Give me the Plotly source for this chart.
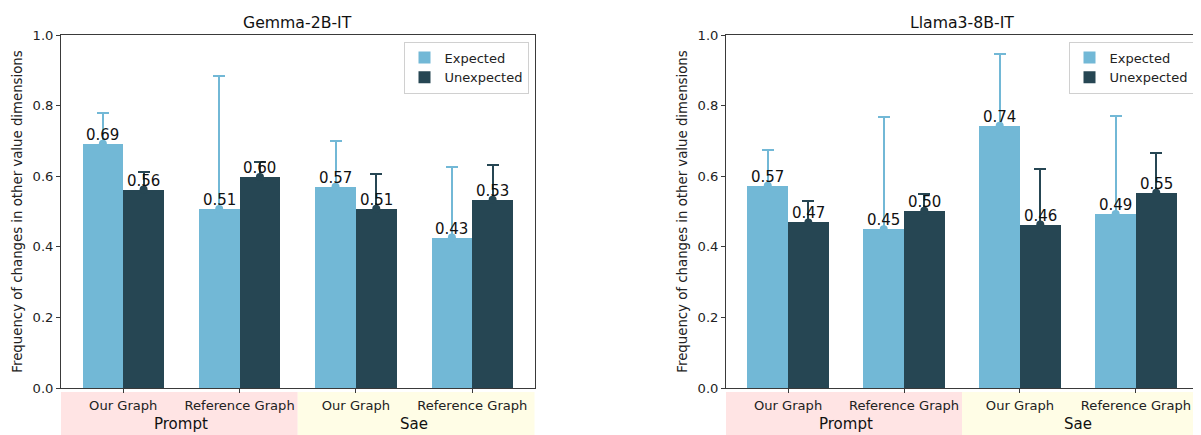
import plotly.graph_objects as go

# ---------------- data ----------------
categories = ["Our Graph", "Reference Graph", "Our Graph", "Reference Graph"]
groups = ["Prompt", "Sae"]
models = ["Gemma-2B-IT", "Llama3-8B-IT"]
series_names = ["Expected", "Unexpected"]

gemma_expected = [0.692, 0.507, 0.570, 0.426]
gemma_expected_err = [0.087, 0.377, 0.130, 0.201]
gemma_unexpected = [0.562, 0.598, 0.508, 0.533]
gemma_unexpected_err = [0.051, 0.041, 0.099, 0.099]

llama_expected = [0.573, 0.450, 0.743, 0.493]
llama_expected_err = [0.102, 0.317, 0.203, 0.278]
llama_unexpected = [0.469, 0.502, 0.463, 0.553]
llama_unexpected_err = [0.060, 0.047, 0.158, 0.113]

y_ticks = [0.0, 0.2, 0.4, 0.6, 0.8, 1.0]
y_title = "Frequency of changes in other value dimensions"

# ---------------- style ----------------
PAGE_W, PAGE_H = 1201, 435
OFF = 8  # default page body margin
W, H = PAGE_W - OFF, PAGE_H - OFF
FONT = "DejaVu Sans"
C_EXP = "#72b8d6"
C_UNEXP = "#264653"
C_PINK = "#ffe4e4"
C_YELLOW = "#fffde6"
AX_COLOR = "#3a3a3a"
BW = 0.35
XR = [-0.535, 3.535]


def px_x(p):
    return (p - OFF) / W


def px_y(p):
    return (PAGE_H - p) / H


domains = [[px_x(61), px_x(534.5)], [px_x(726), px_x(1198)]]
ydom = [px_y(388), px_y(35)]

panels = [
    (gemma_expected, gemma_expected_err, gemma_unexpected, gemma_unexpected_err),
    (llama_expected, llama_expected_err, llama_unexpected, llama_unexpected_err),
]

fig = go.Figure()
annotations = []
shapes = []

for i, (ev, ee, uv, ue) in enumerate(panels):
    xa = "x" if i == 0 else "x2"
    ya = "y" if i == 0 else "y2"
    leg = "legend" if i == 0 else "legend2"
    idx = list(range(len(categories)))
    for name, vals, errs, color, off in [
        (series_names[0], ev, ee, C_EXP, -BW / 2),
        (series_names[1], uv, ue, C_UNEXP, BW / 2),
    ]:
        xs = [k + off for k in idx]
        fig.add_trace(go.Bar(
            x=xs, y=vals, width=BW, name=name, xaxis=xa, yaxis=ya,
            marker=dict(color=color, line=dict(width=0)),
            error_y=dict(type="data", array=errs, visible=True, color=color,
                         thickness=2, width=6),
            legend=leg, showlegend=True,
        ))
        fig.add_trace(go.Scatter(
            x=xs, y=vals, mode="markers", xaxis=xa, yaxis=ya,
            marker=dict(color=color, size=8), showlegend=False, hoverinfo="skip",
        ))
        for x, v in zip(xs, vals):
            annotations.append(dict(
                x=x, y=v, xref=xa, yref=ya, text=f"{v:.2f}", showarrow=False,
                yanchor="bottom", xanchor="center", borderpad=0, yshift=-1,
                font=dict(family=FONT, size=15, color="#111111"),
            ))
    # category group bands
    shapes.append(dict(type="rect", xref=xa, yref="paper", x0=XR[0], x1=1.5,
                       y0=0, y1=px_y(392), fillcolor=C_PINK, line=dict(width=0),
                       layer="below"))
    shapes.append(dict(type="rect", xref=xa, yref="paper", x0=1.5, x1=XR[1] + 0.02,
                       y0=0, y1=px_y(392), fillcolor=C_YELLOW, line=dict(width=0),
                       layer="below"))
    for g, gx in zip(groups, [0.5, 2.5]):
        annotations.append(dict(
            x=gx, y=px_y(424), xref=xa, yref="paper", text=g, showarrow=False,
            yanchor="middle", xanchor="center",
            font=dict(family=FONT, size=15, color="#111111"),
        ))
    # title
    annotations.append(dict(
        x=sum(domains[i]) / 2, y=px_y(22), xref="paper", yref="paper",
        text=models[i], showarrow=False, yanchor="middle", xanchor="center",
        font=dict(family=FONT, size=15.7, color="#111111"),
    ))

axis_common = dict(showline=True, linecolor=AX_COLOR, linewidth=1, mirror=True,
                   ticks="outside", ticklen=4, tickwidth=1, tickcolor=AX_COLOR,
                   showgrid=False, zeroline=False, automargin=False,
                   tickfont=dict(family=FONT, size=13.1, color="#222222"))

for i in range(2):
    sfx = "" if i == 0 else "2"
    fig.update_layout(**{
        f"xaxis{sfx}": dict(axis_common, domain=domains[i], range=XR,
                            tickvals=list(range(len(categories))), ticktext=categories,
                            anchor="y" + sfx, ticklabelstandoff=1),
        f"yaxis{sfx}": dict(axis_common, domain=ydom, range=[0, 1],
                            tickvals=y_ticks, tickformat=".1f",
                            anchor="x" + sfx,
                            title=dict(text=y_title, standoff=6,
                                       font=dict(family=FONT, size=13.3, color="#222222"))),
    })

legend_common = dict(bgcolor="rgba(255,255,255,0.85)", bordercolor="#d0d0d0",
                     borderwidth=1, xanchor="right", yanchor="top",
                     font=dict(family=FONT, size=13, color="#222222"),
                     tracegroupgap=2, itemsizing="constant")
fig.update_layout(
    legend=dict(legend_common, x=px_x(528.5), y=px_y(41.5)),
    legend2=dict(legend_common, x=px_x(1193.5), y=px_y(41.5)),
)

fig.update_layout(
    width=W, height=H, margin=dict(l=0, r=0, t=0, b=0, autoexpand=False),
    paper_bgcolor="white", plot_bgcolor="white",
    barmode="overlay", bargap=0,
    annotations=annotations, shapes=shapes,
    font=dict(family=FONT, color="#222222"),
)

fig.write_html("out.html")
